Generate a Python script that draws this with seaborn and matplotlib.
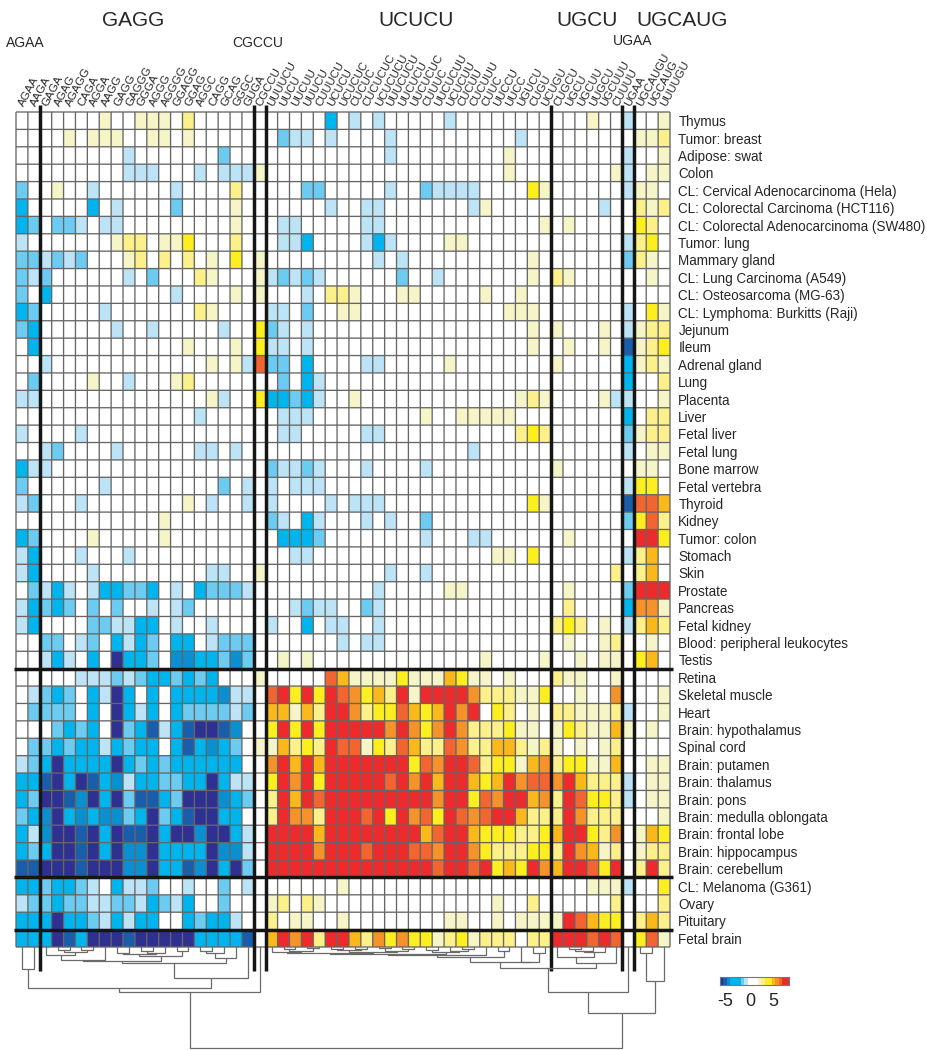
import numpy as np
import pandas as pd
import matplotlib
matplotlib.use("Agg")
import matplotlib.pyplot as plt
from matplotlib.colors import ListedColormap
import seaborn as sns

W, H = 927, 1050

# Column (motif) labels, in clustered order
motifs = ["AGAA", "AAGA", "GAGA", "AGAG", "AGAGG", "CAGA", "AGGA", "AAGG", "GAGG", "GAGGG",
          "GGGA", "AGGG", "AGGGG", "GGAGG", "GGAG", "AGGC", "CAGG", "GCAG", "GGGC", "GUGA",
          "CGCCU", "UUUUCU", "UUCU", "UUCUU", "UUUCU", "CUUUCU", "UCUCU", "UCUCUC", "CUCUC",
          "CUCUCUC", "UCUCUCU", "UUUCUCU", "UUCUCU", "UUCUCUC", "CUUUC", "UUCUCUU", "UCUCUU",
          "CUCUU", "CUCUUU", "CUUC", "UUCCU", "UUCC", "UGUCU", "CUGU", "UCUGU", "CUGCU", "UGCU",
          "UGCUU", "UUGCU", "UGCUUU", "CUUUU", "UGAA", "UGCAUGU", "UGCAUG", "UUUUGU"]

tissues_top = ["Thymus", "Tumor: breast", "Adipose: swat", "Colon", "CL: Cervical Adenocarcinoma (Hela)",
               "CL: Colorectal Carcinoma (HCT116)", "CL: Colorectal Adenocarcinoma (SW480)", "Tumor: lung",
               "Mammary gland", "CL: Lung Carcinoma (A549)", "CL: Osteosarcoma (MG-63)",
               "CL: Lymphoma: Burkitts (Raji)", "Jejunum", "Ileum", "Adrenal gland", "Lung", "Placenta",
               "Liver", "Fetal liver", "Fetal lung", "Bone marrow", "Fetal vertebra", "Thyroid", "Kidney",
               "Tumor: colon", "Stomach", "Skin", "Prostate", "Pancreas", "Fetal kidney",
               "Blood: peripheral leukocytes", "Testis"]
tissues_brain = ["Retina", "Skeletal muscle", "Heart", "Brain: hypothalamus", "Spinal cord", "Brain: putamen",
                 "Brain: thalamus", "Brain: pons", "Brain: medulla oblongata", "Brain: frontal lobe",
                 "Brain: hippocampus", "Brain: cerebellum"]
tissues_low = ["CL: Melanoma (G361)", "Ovary", "Pituitary", "Fetal brain"]

# Binned enrichment per tissue, {column index: colour class}; absent means 0 (white)
# negative = blue classes, positive = yellow to red classes
rows_top = [
    {7: 1, 10: 1, 11: 1, 12: 1, 14: 2, 26: -3, 28: -1, 30: -1, 36: -1, 48: 1, 51: -1, 54: 1},
    {4: 1, 6: 1, 7: 1, 8: 1, 11: 1, 12: 1, 14: 1, 22: -2, 23: -1, 24: -1, 26: -1, 31: -1, 42: -1,
     52: 1, 53: 1, 54: 2},
    {9: -1, 17: -2, 31: -1, 41: 1, 51: -1, 54: 1},
    {9: -1, 10: -1, 11: -1, 15: -1, 17: -1, 18: -1, 19: -1, 20: 1, 41: 1, 50: 1, 51: -1, 53: 1, 54: 1},
    {0: -2, 3: 1, 6: -1, 13: -1, 18: 2, 24: -2, 25: -2, 31: -1, 34: -2, 35: -1, 36: -1, 37: -1, 38: -1,
     43: 3, 44: 1, 51: -1, 52: 1, 53: 1},
    {0: -3, 6: -3, 8: -1, 13: -2, 18: 1, 26: -1, 29: -1, 30: -1, 38: -1, 39: 1, 49: -1, 52: 2, 53: 1, 54: 2},
    {0: -3, 1: -2, 3: -2, 4: -2, 5: -1, 7: -1, 8: -1, 18: 1, 22: -1, 23: -1, 29: -1, 30: -1, 44: 1, 46: 1,
     52: 3, 53: 2},
    {0: -1, 8: 1, 9: 2, 10: 2, 12: 1, 13: 1, 14: 3, 18: 2, 22: -1, 23: -1, 24: -3, 29: -1, 30: -3, 31: -1,
     36: 1, 37: 1, 51: -1, 52: 2, 53: 3},
    {0: -2, 1: -2, 2: -1, 3: -2, 4: -1, 5: -2, 9: 1, 10: 2, 12: 2, 14: 2, 16: 1, 18: 3, 20: 1, 30: -1, 32: -1,
     43: 1, 51: -2, 52: 2, 53: 1},
    {0: -2, 1: -1, 2: -2, 9: -1, 11: -2, 15: 2, 16: 1, 20: 1, 21: -1, 22: -2, 23: -1, 24: -2, 25: -1, 32: -2,
     35: -1, 43: 1, 45: 2, 46: 1, 53: 1},
    {0: -2, 2: -3, 13: -1, 18: 1, 20: 1, 24: -1, 26: 2, 27: 2, 28: 1, 32: 1, 33: 1, 39: 1, 42: 1},
    {0: -3, 1: -2, 7: -1, 15: 2, 16: 1, 21: -1, 22: -1, 24: -2, 27: 1, 28: 1, 41: 1, 42: 1, 43: 1, 51: -1,
     53: 3, 54: 1},
    {0: -2, 1: -3, 8: -1, 11: -1, 17: -1, 20: 3, 21: -2, 22: -1, 24: -1, 43: 1, 45: 1, 49: 1, 51: -1, 52: 1,
     53: 2, 54: 2},
    {1: -3, 14: 1, 18: 1, 20: 3, 21: -1, 22: -1, 24: -1, 43: 1, 46: 1, 49: 1, 51: -5, 52: 1, 53: 2, 54: 3},
    {2: -1, 16: 1, 18: 1, 19: -1, 20: 6, 21: -2, 22: -2, 24: -3, 29: -1, 30: -1, 36: 1, 45: 1, 51: -3, 52: 1,
     53: 2, 54: 1},
    {1: -2, 6: 1, 9: -1, 13: 1, 14: 2, 22: -2, 24: -3, 25: -1, 51: -3, 54: 2},
    {0: -1, 1: -1, 16: 1, 17: -1, 20: 3, 21: -3, 22: -3, 23: -2, 24: -3, 25: -1, 28: 1, 42: 1, 43: 2, 44: 1,
     49: 1, 50: -1, 51: -1, 54: 1},
    {15: -1, 22: -1, 23: -1, 24: -1, 34: 1, 37: 1, 38: 1, 39: 1, 40: 1, 41: 1, 51: -3, 53: 2, 54: 2},
    {0: -1, 5: -1, 22: -1, 23: -1, 29: -1, 30: -1, 42: 2, 43: 3, 44: 2, 51: -2, 52: 1, 53: 2, 54: 2},
    {2: -1, 3: -2, 8: -1, 15: -1, 16: -1, 18: -1, 38: -1, 51: -1, 53: 1, 54: 1},
    {0: -3, 1: -1, 2: -1, 21: -2, 22: -1, 23: -1, 24: -2, 25: -1, 29: -1, 34: -1, 45: 1, 52: 1, 53: 1},
    {0: -2, 7: -1, 17: -2, 19: -1, 21: -1, 23: -1, 24: -1, 25: -1, 51: -1, 52: 3, 53: 3},
    {0: -1, 1: -2, 5: -1, 14: 1, 16: -1, 19: -1, 21: -1, 26: -1, 28: -1, 29: -1, 30: -1, 43: 3, 44: 1, 51: -5,
     52: 6, 53: 6, 54: 4},
    {12: 1, 21: -2, 22: -1, 24: -3, 25: -1, 29: -1, 31: -1, 34: -2, 51: -2, 52: 3, 53: 6, 54: 2},
    {0: -3, 1: -2, 6: 1, 12: 1, 22: -3, 23: -3, 24: -3, 25: -2, 34: -1, 38: -1, 39: -1, 46: 1, 52: 7, 53: 7,
     54: 3},
    {0: -1, 1: -3, 5: -1, 9: -1, 23: -1, 24: -1, 40: 1, 41: 1, 43: 3, 51: -1, 52: 2, 53: 4},
    {0: -1, 1: -3, 6: -1, 16: -1, 17: -1, 20: 1, 31: -1, 34: -1, 50: 2, 52: 2, 53: 4},
    {1: -2, 2: -1, 3: -3, 4: -1, 6: -1, 7: -3, 8: -3, 9: -2, 10: -2, 11: -3, 13: -1, 15: -3, 16: -2, 17: -2,
     18: -2, 19: -1, 30: -1, 36: 1, 37: 1, 46: 1, 51: -2, 52: 7, 53: 7, 54: 7},
    {0: -1, 1: -3, 2: -2, 3: -3, 4: -2, 6: -2, 8: -2, 11: -1, 13: -1, 14: -2, 23: -1, 24: -2, 25: -1, 26: -1,
     29: -2, 30: -1, 46: 2, 51: -3, 52: 5, 53: 5, 54: 1},
    {0: -1, 1: -3, 6: -2, 7: -2, 8: -1, 9: -1, 10: -3, 11: -3, 13: -1, 16: -1, 21: -1, 24: -3, 26: -1, 27: -1,
     30: -1, 45: 2, 46: 3, 47: 2, 49: 1, 51: -1, 52: 2, 53: 4, 54: 2},
    {2: -2, 3: -2, 5: -1, 6: -2, 8: -3, 9: -1, 10: -3, 11: -2, 13: -3, 14: -3, 16: -1, 17: -2, 18: -2, 19: -2,
     27: -1, 29: -1, 30: -1, 46: 1, 49: 1, 50: 2, 53: 1},
    {2: -1, 3: -3, 4: -1, 6: -3, 8: -6, 9: -3, 10: -3, 11: -2, 13: -4, 14: -4, 15: -3, 16: -3, 17: -2, 18: -4,
     19: -2, 22: 1, 24: 1, 39: 1, 44: 1, 47: 1, 49: 1, 50: 1, 52: 3, 53: 4},
]

rows_brain = [
    {5: -1, 6: -1, 7: -1, 8: -2, 9: -1, 10: -2, 11: -3, 12: -3, 13: -2, 14: -3, 15: -2, 16: -3, 20: 1, 26: 6,
     27: 4, 28: 1, 29: 1, 30: 1, 31: 1, 32: 3, 33: 1, 34: 1, 35: 1, 36: 4, 37: 3, 38: 1, 39: 1, 41: 1, 45: 2,
     46: 1, 47: 1, 50: 1},
    {1: -1, 2: -2, 3: -3, 4: -2, 6: -3, 7: -1, 8: -6, 9: -3, 11: -3, 13: -3, 14: -3, 15: -3, 16: -3, 17: -4,
     18: -1, 19: -1, 21: 6, 22: 7, 23: 3, 24: 7, 25: 3, 26: 7, 27: 6, 28: 5, 29: 3, 30: 4, 31: 2, 32: 7, 33: 1,
     34: 7, 35: 7, 36: 7, 37: 7, 38: 5, 39: 2, 40: 2, 41: 2, 42: 1, 43: 1, 44: 3, 47: 1, 50: 5, 54: 1},
    {1: -2, 2: -2, 3: -2, 4: -2, 6: -3, 8: -6, 9: -3, 10: -1, 11: -3, 13: -3, 14: -2, 15: -2, 16: -2, 17: -2,
     18: -1, 19: -2, 21: 4, 22: 4, 23: 1, 24: 4, 25: 2, 26: 7, 27: 7, 28: 5, 29: 2, 30: 3, 31: 3, 32: 6, 33: 4,
     34: 3, 35: 4, 36: 7, 37: 5, 38: 7, 40: 3, 41: 2, 43: 1, 45: 2, 46: 2, 47: 1, 48: 1, 49: 1, 50: 2, 51: -1,
     54: 1},
    {3: -2, 4: -3, 5: -2, 6: -3, 8: -6, 9: -2, 10: -3, 11: -5, 12: -1, 13: -3, 14: -5, 15: -6, 16: -6, 17: -5,
     18: -4, 21: 3, 22: 7, 23: 3, 24: 7, 25: 3, 26: 7, 27: 7, 28: 7, 29: 7, 30: 7, 31: 5, 32: 7, 33: 5, 34: 3,
     35: 5, 36: 7, 37: 5, 38: 2, 39: 2, 40: 2, 41: 3, 42: 1, 43: 1, 45: 1, 46: 3, 47: 2, 48: 1, 49: 1, 50: 4,
     51: 1, 53: 1},
    {1: -2, 2: -2, 3: -3, 4: -2, 5: -3, 6: -3, 7: -1, 8: -3, 9: -2, 10: -3, 11: -3, 13: -3, 14: -5, 15: -3,
     16: -4, 17: -3, 18: -2, 20: 1, 21: 1, 22: 4, 23: 2, 24: 3, 25: 2, 26: 7, 27: 6, 28: 6, 29: 1, 30: 3, 31: 2,
     32: 6, 33: 4, 34: 2, 35: 2, 36: 6, 37: 5, 38: 2, 39: 2, 40: 4, 41: 4, 42: 2, 43: 1, 44: 2, 45: 1, 47: 1,
     49: 1, 50: 2},
    {0: -1, 1: -2, 2: -3, 3: -6, 4: -3, 5: -3, 6: -3, 7: -3, 8: -6, 9: -3, 10: -2, 11: -3, 12: -2, 13: -3,
     14: -3, 15: -3, 16: -3, 17: -3, 18: -3, 21: 5, 22: 7, 23: 4, 24: 7, 25: 4, 26: 7, 27: 7, 28: 7, 29: 7,
     30: 7, 31: 7, 32: 7, 33: 3, 34: 6, 35: 5, 36: 7, 37: 7, 38: 6, 39: 2, 40: 3, 41: 3, 42: 1, 43: 4, 44: 5,
     45: 2, 46: 3, 47: 3, 48: 1, 49: 1, 50: 4, 53: 1, 54: 1},
    {0: -3, 1: -3, 2: -5, 3: -6, 4: -3, 5: -6, 6: -5, 7: -3, 8: -4, 9: -1, 10: -3, 11: -3, 12: -2, 13: -2,
     14: -3, 15: -3, 16: -6, 17: -3, 18: -1, 19: -1, 21: 3, 22: 7, 23: 5, 24: 7, 25: 3, 26: 7, 27: 7, 28: 7,
     29: 7, 30: 7, 31: 6, 32: 7, 33: 5, 34: 7, 35: 4, 36: 7, 37: 7, 38: 4, 39: 3, 40: 4, 41: 7, 42: 5, 43: 6,
     44: 6, 45: 5, 46: 7, 47: 4, 48: 2, 49: 2, 50: 2, 51: -1, 53: 1, 54: 1},
    {0: -3, 1: -2, 2: -6, 3: -6, 4: -5, 5: -4, 6: -6, 7: -3, 8: -6, 9: -2, 10: -5, 11: -5, 12: -3, 13: -2,
     14: -6, 15: -6, 16: -6, 17: -4, 18: -3, 19: -2, 21: 2, 22: 7, 23: 4, 24: 7, 25: 6, 26: 7, 27: 7, 28: 7,
     29: 7, 30: 7, 31: 7, 32: 7, 33: 7, 34: 7, 35: 5, 36: 7, 37: 7, 38: 3, 39: 6, 40: 5, 41: 7, 42: 7, 43: 4,
     44: 5, 45: 2, 46: 7, 47: 6, 48: 3, 49: 3, 50: 2, 51: -1, 53: 1, 54: 1},
    {0: -2, 1: -3, 2: -4, 3: -6, 4: -3, 5: -4, 6: -3, 7: -4, 8: -4, 9: -2, 10: -3, 11: -6, 12: -2, 13: -3,
     14: -5, 15: -6, 16: -6, 17: -3, 18: -3, 21: 2, 22: 7, 23: 5, 24: 5, 25: 2, 26: 7, 27: 7, 28: 7, 29: 6,
     30: 7, 31: 3, 32: 7, 33: 5, 34: 6, 35: 3, 36: 7, 37: 6, 38: 5, 39: 6, 40: 7, 41: 7, 42: 4, 43: 2, 44: 2,
     45: 2, 46: 7, 47: 5, 48: 2, 49: 2, 50: 2, 54: 1},
    {0: -3, 1: -1, 2: -4, 3: -6, 4: -6, 5: -5, 6: -6, 7: -3, 8: -6, 9: -5, 10: -5, 11: -6, 12: -3, 13: -6,
     14: -6, 15: -4, 16: -6, 17: -6, 18: -3, 19: -1, 21: 7, 22: 7, 23: 7, 24: 7, 25: 4, 26: 7, 27: 7, 28: 7,
     29: 7, 30: 7, 31: 7, 32: 7, 33: 7, 34: 4, 35: 6, 36: 7, 37: 7, 38: 4, 39: 3, 40: 3, 41: 3, 42: 2, 43: 2,
     44: 3, 45: 4, 46: 7, 47: 7, 48: 3, 49: 2, 50: 5, 52: 1, 53: 4, 54: 3},
    {0: -3, 1: -2, 2: -3, 3: -6, 4: -6, 5: -5, 6: -6, 7: -3, 8: -6, 9: -4, 10: -4, 11: -6, 12: -3, 13: -3,
     14: -3, 15: -3, 16: -6, 17: -4, 18: -4, 19: -1, 21: 7, 22: 7, 23: 7, 24: 7, 25: 5, 26: 7, 27: 7, 28: 7,
     29: 6, 30: 7, 31: 7, 32: 7, 33: 6, 34: 6, 35: 5, 36: 7, 37: 7, 38: 5, 39: 3, 40: 2, 41: 2, 42: 2, 43: 3,
     44: 3, 45: 2, 46: 7, 47: 5, 48: 4, 49: 1, 50: 2, 52: 1, 53: 2, 54: 2},
    {0: -5, 1: -5, 2: -6, 3: -6, 4: -6, 5: -5, 6: -6, 7: -6, 8: -6, 9: -4, 10: -4, 11: -6, 12: -3, 13: -3,
     14: -5, 15: -4, 16: -6, 17: -3, 18: -6, 19: -2, 21: 7, 22: 7, 23: 7, 24: 7, 25: 7, 26: 7, 27: 7, 28: 7,
     29: 7, 30: 7, 31: 7, 32: 7, 33: 7, 34: 7, 35: 6, 36: 7, 37: 7, 38: 6, 39: 7, 40: 3, 41: 4, 42: 3, 43: 7,
     44: 5, 45: 4, 46: 7, 47: 7, 48: 6, 49: 3, 50: 7, 52: 2, 53: 7, 54: 2},
]

rows_low = [
    {0: -3, 1: -3, 2: -2, 3: -3, 4: -3, 5: -2, 6: -1, 8: -3, 9: -1, 10: -1, 11: -2, 14: -1, 17: -2, 19: -1,
     27: 1, 48: 1, 49: 1, 50: 1, 51: -1, 54: 3},
    {0: -1, 1: -2, 2: -2, 3: -3, 4: -2, 5: -2, 6: -1, 7: -1, 8: -2, 9: -2, 10: -1, 11: -3, 12: -2, 13: -1,
     14: -3, 17: -2, 21: 1, 22: 2, 24: 2, 25: 1, 40: 1, 43: 2, 50: 2, 54: 2},
    {0: -3, 1: -3, 2: -3, 3: -6, 4: -3, 5: -3, 6: -2, 7: -1, 8: -3, 9: -1, 10: -3, 11: -3, 14: -3, 15: -2,
     16: -3, 17: -3, 18: -1, 21: 2, 23: 1, 24: 1, 27: 1, 36: 1, 37: 1, 40: 1, 42: 1, 43: 1, 44: 1, 45: 1,
     46: 7, 47: 6, 48: 4, 49: 3, 50: 3, 52: 2, 53: 4, 54: 2},
    {0: -3, 1: -3, 2: -3, 3: -6, 4: -5, 5: -3, 6: -6, 7: -6, 8: -6, 9: -5, 10: -6, 11: -6, 12: -6, 13: -6,
     14: -6, 15: -3, 16: -3, 17: -3, 18: -3, 19: -5, 21: 4, 22: 7, 23: 5, 24: 7, 25: 2, 26: 7, 27: 7, 28: 4,
     29: 2, 30: 5, 31: 3, 32: 5, 33: 3, 34: 3, 35: 1, 36: 2, 37: 3, 38: 1, 39: 2, 40: 2, 41: 2, 43: 2, 44: 2,
     45: 7, 46: 7, 47: 7, 48: 6, 49: 7, 50: 6, 52: 3, 53: 6, 54: 1},
]

class_colors = ["#2E3192", "#1A5DAB", "#0A8FD0", "#00B5EE", "#6CCBF0", "#BDE4F6", "#FFFFFF",
                "#F6F5C8", "#FBF08A", "#FDEE1F", "#FBB81A", "#F6922A", "#F26430", "#ED2A2C"]
bar_classes = [-6, -5, -4, -3, -3, -3, -2, -1, 0, 0, 0, 1, 2, 3, 3, 4, 5, 6, 7, 7]
bar_ticks = ["-5", "0", "5"]

# motif families on top, thick separators are column / row boundaries
family_big = ["GAGG", "UCUCU", "UGCU", "UGCAUG"]
family_small = ["AGAA", "CGCCU", "UGAA"]
col_breaks = [2, 20, 21, 45, 51, 52]
row_breaks = [32, 44, 47]

# column tree as (left, right, height): ids below 55 are leaves, 55 up are earlier merges
merges = [
    (0, 1, 22), (3, 4, 2.7), (5, 6, 3), (55 + 1, 55 + 2, 5), (2, 55 + 3, 8), (55 + 4, 7, 13),
    (8, 9, 5.5), (10, 11, 4), (55 + 7, 12, 6), (55 + 6, 55 + 8, 7), (13, 14, 4), (55 + 9, 55 + 10, 9),
    (55 + 5, 55 + 11, 13.5), (15, 16, 3.5), (55 + 13, 17, 6), (55 + 14, 18, 11), (55 + 12, 55 + 15, 15.5),
    (55 + 16, 19, 31), (55 + 0, 55 + 17, 41), (55 + 18, 20, 45),
    (22, 23, 2), (24, 25, 1), (55 + 20, 55 + 21, 3.5), (21, 55 + 22, 5),
    (26, 27, 1.5), (28, 29, 2), (55 + 24, 55 + 25, 3), (30, 31, 1), (32, 33, 2), (55 + 27, 55 + 28, 4),
    (55 + 26, 55 + 29, 5), (55 + 23, 55 + 30, 6),
    (34, 35, 3), (37, 38, 2), (36, 55 + 33, 3.5), (55 + 32, 55 + 34, 5), (55 + 31, 55 + 35, 7),
    (55 + 36, 39, 7.5), (40, 41, 4), (55 + 37, 55 + 38, 10), (43, 44, 6), (42, 55 + 40, 15),
    (55 + 39, 55 + 41, 15),
    (46, 47, 1.5), (55 + 43, 48, 3.5), (55 + 44, 49, 5), (45, 55 + 45, 10), (55 + 46, 50, 16),
    (55 + 42, 55 + 47, 21), (55 + 48, 51, 45),
    (52, 53, 6), (55 + 50, 54, 34), (55 + 49, 55 + 51, 66),
    (55 + 19, 55 + 52, 101),
]


def box(left, top, right, bottom):
    # pixel box of the reference to figure fraction
    return [left / W, 1 - bottom / H, (right - left) / W, (bottom - top) / H]


def fill_rows(rows):
    return [[row.get(c, 0) for c in range(len(motifs))] for row in rows]


sns.set_theme(style="white")
plt.rcParams["font.family"] = ["Liberation Sans", "DejaVu Sans"]

tissues = tissues_top + tissues_brain + tissues_low
df = pd.DataFrame(fill_rows(rows_top + rows_brain + rows_low), index=tissues, columns=motifs)
cmap = ListedColormap(class_colors)
grid_color = "#666666"
text_color = "#262626"

fig = plt.figure(figsize=(W / 100, H / 100), dpi=100)
ax = fig.add_axes(box(16, 112, 670, 947))
sns.heatmap(df, ax=ax, cmap=cmap, vmin=-6.5, vmax=7.5, cbar=False, linewidths=0,
            xticklabels=False, yticklabels=True, square=False)
ax.yaxis.tick_right()
ax.tick_params(axis="y", length=0, pad=6, labelsize=9.75, labelcolor=text_color, rotation=0)
ax.set_xlabel("")
ax.set_ylabel("")

# cell borders as separate lines, the mesh edges come out uneven
n_rows, n_cols = df.shape
vgrid = ax.vlines(range(n_cols + 1), 0, n_rows, color=grid_color, lw=0.95, clip_on=False, zorder=3)
hgrid = ax.hlines(range(n_rows + 1), 0, n_cols, color=grid_color, lw=0.95, clip_on=False, zorder=3)
vgrid.set_snap(False)
hgrid.set_snap(False)

# motif labels, leaning to the right from above each column
for i, name in enumerate(motifs):
    ax.annotate(name, xy=(i + 0.5, 0), xycoords="data", xytext=(-0.5, 4.5), textcoords="offset points",
                rotation=62, rotation_mode="anchor", ha="left", va="center", fontsize=8.2,
                color=text_color, annotation_clip=False)

# thick separators
for c in col_breaks:
    ax.plot([c, c], [-0.4, 49.4], color="#151515", lw=2.5, clip_on=False, solid_capstyle="butt", zorder=5)
for r in row_breaks:
    ax.plot([-0.17, 55.25], [r, r], color="#151515", lw=2.5, clip_on=False, solid_capstyle="butt", zorder=5)

# dendrogram under the columns
dax = fig.add_axes(box(16, 947, 670, 1050))
dax.set_xlim(0, len(motifs))
dax.set_ylim(103, 0)
dax.axis("off")
pos = [i + 0.5 for i in range(len(motifs))]
tops = [0.0] * len(motifs)
for left, right, height in merges:
    dax.plot([pos[left], pos[left], pos[right], pos[right]], [tops[left], height, height, tops[right]],
             color="#6A6A6A", lw=0.9, solid_joinstyle="miter")
    pos.append((pos[left] + pos[right]) / 2)
    tops.append(height)

# colour key
cax = fig.add_axes(box(720, 977, 789, 985))
sns.heatmap([bar_classes], ax=cax, cmap=cmap, vmin=-6.5, vmax=7.5, cbar=False, xticklabels=False,
            yticklabels=False)
for side in cax.spines.values():
    side.set_visible(True)
    side.set_color("#777777")
    side.set_linewidth(0.8)
cax.set_xticks([1.4, 8.9, 15.4])
cax.set_xticklabels(bar_ticks, fontsize=13, color=text_color)
cax.tick_params(axis="x", length=0, pad=6)

# motif family headings
big_x = [133, 416, 587, 682]
small_x = [25, 258, 633]
for name, x in zip(family_big, big_x):
    fig.text(x / W, 1 - 21 / H, name, ha="center", va="center", fontsize=15, color=text_color)
for name, x, y in zip(family_small, small_x, [43, 43, 41]):
    fig.text(x / W, 1 - y / H, name, ha="center", va="center", fontsize=10, color=text_color)

fig.savefig("out.png", dpi=100, facecolor="white")
